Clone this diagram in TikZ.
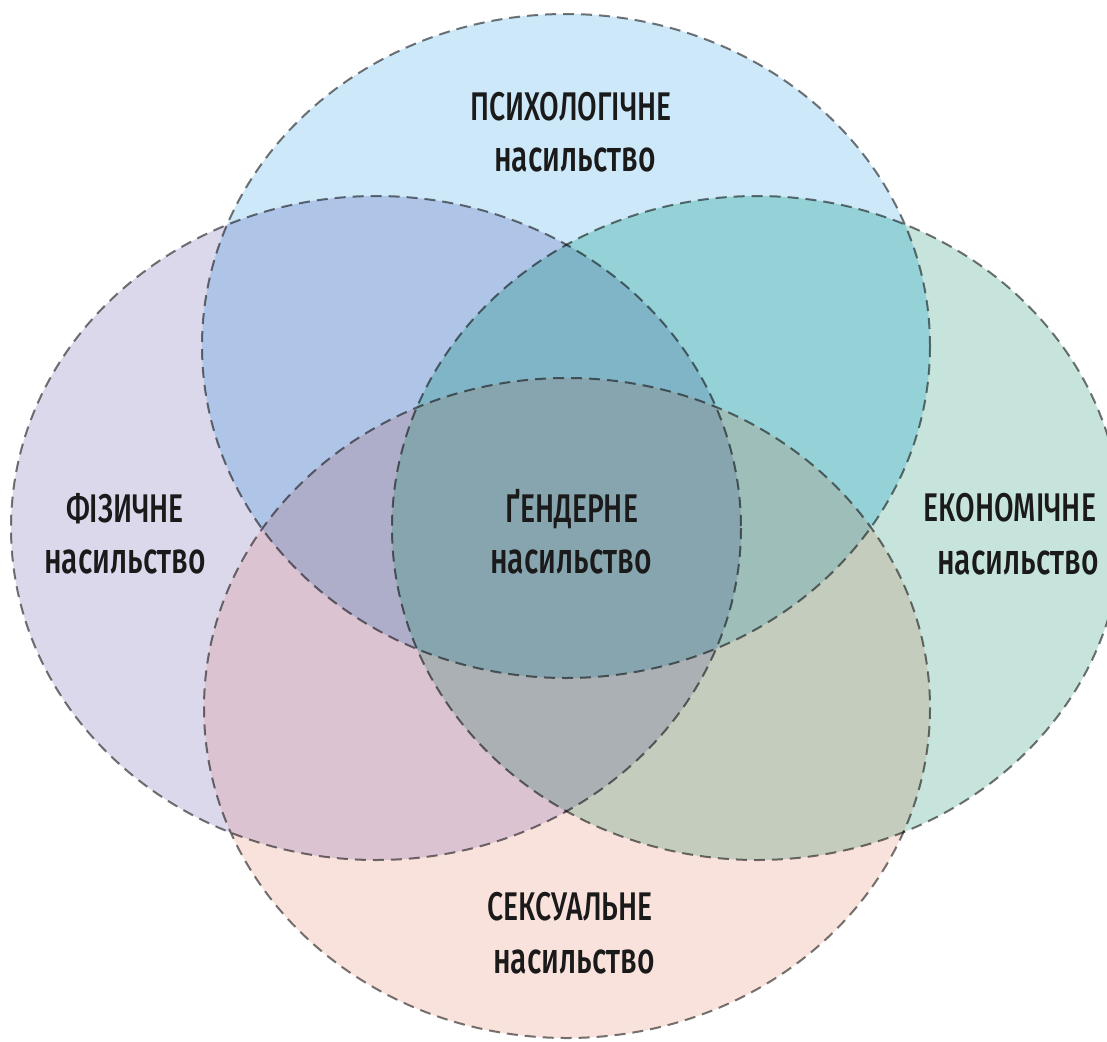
\documentclass[tikz,border=0pt]{standalone}
\usepackage{fontspec}
\setmainfont[FakeStretch=0.71, UprightFont={* Medium}]{Fira Sans}
\newfontfamily\lowfont[FakeStretch=0.69, UprightFont={* Medium}]{Fira Sans}
% single regions
\definecolor{cT}{HTML}{CDE8F8}
\definecolor{cL}{HTML}{DCD8EB}
\definecolor{cR}{HTML}{C6E4DC}
\definecolor{cB}{HTML}{FAE2DC}
% pairs
\definecolor{cTL}{HTML}{AEC5E7}
\definecolor{cTR}{HTML}{94D2D8}
\definecolor{cLB}{HTML}{DBC3D2}
\definecolor{cRB}{HTML}{C4CCBD}
% triples
\definecolor{cTLR}{HTML}{80B5C7}
\definecolor{cTLB}{HTML}{AEADCA}
\definecolor{cTRB}{HTML}{9EBEBA}
\definecolor{cLRB}{HTML}{AAB0B4}
% all four
\definecolor{cALL}{HTML}{87A5AF}
\definecolor{cline}{HTML}{767676}
\definecolor{ctext}{HTML}{1A1A1A}
\newcommand{\clipTop}{\path[clip] (566,346) ellipse [x radius=364, y radius=332];}
\newcommand{\clipLeft}{\path[clip] (376,528) ellipse [x radius=365, y radius=332];}
\newcommand{\clipRight}{\path[clip] (757,528) ellipse [x radius=365, y radius=332];}
\newcommand{\clipBot}{\path[clip] (567,708) ellipse [x radius=363, y radius=330];}
\tikzset{
  rim/.style={draw=cline, line width=2pt, dash pattern=on 11pt off 7pt, blend mode=multiply},
  capt/.style={anchor=base, text=ctext, font=\fontsize{40}{42}\selectfont, inner sep=0pt},
  lowt/.style={anchor=base, text=ctext, font=\lowfont\fontsize{43.5}{46}\selectfont, inner sep=0pt}
}
\begin{document}
\begin{tikzpicture}[x=1pt,y=-1pt]
\useasboundingbox (0,0) rectangle (1107,1041);
\fill[white] (0,0) rectangle (1107,1041);
% single ellipses
\fill[cT] (566,346) ellipse [x radius=364, y radius=332];
\fill[cL] (376,528) ellipse [x radius=365, y radius=332];
\fill[cR] (757,528) ellipse [x radius=365, y radius=332];
\fill[cB] (567,708) ellipse [x radius=363, y radius=330];
% pairwise overlaps
\begin{scope}\clipTop \fill[cTL] (376,528) ellipse [x radius=365, y radius=332];\end{scope}
\begin{scope}\clipTop \fill[cTR] (757,528) ellipse [x radius=365, y radius=332];\end{scope}
\begin{scope}\clipLeft \fill[cLB] (567,708) ellipse [x radius=363, y radius=330];\end{scope}
\begin{scope}\clipRight \fill[cRB] (567,708) ellipse [x radius=363, y radius=330];\end{scope}
% triple overlaps
\begin{scope}\clipTop \clipLeft \fill[cTLR] (757,528) ellipse [x radius=365, y radius=332];\end{scope}
\begin{scope}\clipTop \clipLeft \fill[cTLB] (567,708) ellipse [x radius=363, y radius=330];\end{scope}
\begin{scope}\clipTop \clipRight \fill[cTRB] (567,708) ellipse [x radius=363, y radius=330];\end{scope}
\begin{scope}\clipLeft \clipRight \fill[cLRB] (567,708) ellipse [x radius=363, y radius=330];\end{scope}
% all four
\begin{scope}\clipTop \clipLeft \clipRight \fill[cALL] (567,708) ellipse [x radius=363, y radius=330];\end{scope}
% outlines
\draw[rim] (566,346) ellipse [x radius=364, y radius=332];
\draw[rim] (376,528) ellipse [x radius=365, y radius=332];
\draw[rim] (757,528) ellipse [x radius=365, y radius=332];
\draw[rim] (567,708) ellipse [x radius=363, y radius=330];
% labels
\node[capt] (psyA) at (571,120) {ПСИХОЛОГІЧНЕ};
\node[lowt] (psyB) at (575,171) {насильство};
\node[capt] (phyA) at (125,522) {ФІЗИЧНЕ};
\node[lowt] (phyB) at (125,573) {насильство};
\node[capt] (genA) at (572,522) {ҐЕНДЕРНЕ};
\node[lowt] (genB) at (571,573) {насильство};
\node[capt] (ecoA) at (1010,521) {ЕКОНОМІЧНЕ};
\node[lowt] (ecoB) at (1018,574) {насильство};
\node[capt] (sexA) at (570,920) {СЕКСУАЛЬНЕ};
\node[lowt] (sexB) at (574,973) {насильство};
\end{tikzpicture}
\end{document}
